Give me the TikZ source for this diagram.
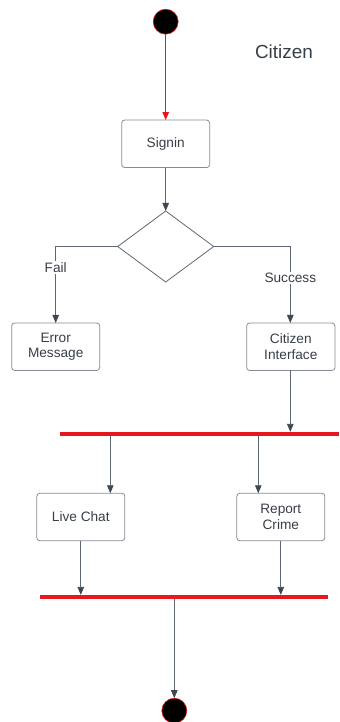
\documentclass[tikz,border=0pt]{standalone}
\usepackage{fontspec}
\setmainfont{Liberation Sans}
\usetikzlibrary{arrows,arrows.meta,shapes}
\definecolor{boxline}{HTML}{868B94}
\definecolor{boxtext}{HTML}{383E47}
\definecolor{flowline}{HTML}{5F6673}
\definecolor{flowtip}{HTML}{3F4753}
\definecolor{barred}{HTML}{E8171B}
\newcommand*{\boxfont}{\fontsize{13.7}{16}\selectfont\color{boxtext}}
\tikzstyle{state}=[draw=boxline, line width=0.8bp, rounded corners=3bp, minimum width=88bp,
  minimum height=47.5bp, align=center, font=\boxfont, inner sep=0pt, outer sep=0pt]
\tikzstyle{choice}=[draw=flowline, line width=0.8bp, diamond, minimum width=96bp,
  minimum height=71bp, inner sep=0pt, outer sep=0pt]
\tikzstyle{dot}=[circle, fill=black, draw=barred, line width=0.6bp, minimum size=25bp,
  inner sep=0pt, outer sep=0pt]
\tikzstyle{bar}=[fill=barred, minimum height=3.6bp, inner sep=0pt, outer sep=0pt]
\tikzstyle{flow}=[draw=flowline, line width=0.8bp,
  -{Triangle[length=8bp,width=6.5bp,fill=flowtip,color=flowtip]}]
\tikzstyle{initflow}=[barred, line width=1bp,
  -{Triangle[length=8bp,width=6.5bp]}]
\tikzstyle{guard}=[fill=white, font=\boxfont, inner sep=1.5bp]

\begin{document}
\begin{tikzpicture}[x=1bp, y=-1bp]
	\useasboundingbox (0,0) rectangle (339,722);
	\node (start) at (165.7,21.7) [dot] {};
	\node (title) at (284,52) [font=\fontsize{19}{22}\selectfont\color{boxtext}] {Citizen};
	\node (signin) at (165.7,143.8) [state] {Signin};
	\node (check) at (165.7,246.5) [choice] {};
	\node (error) at (55.7,346.7) [state] {Error\\Message};
	\node (cui) at (290.8,346.7) [state, minimum width=88.3bp] {Citizen\\Interface};
	\node (fork) at (199.5,433.7) [bar, minimum width=279bp] {};
	\node (chat) at (80.8,517) [state] {Live Chat};
	\node (report) at (280.8,517) [state] {Report\\Crime};
	\node (join) at (184.2,596.7) [bar, minimum width=288.3bp] {};
	\node (stop) at (174.3,710.7) [dot] {};

	\draw[initflow] (start) -- (signin);
	\draw[flow] (signin) -- (check);
	\draw[flow] (check.west) -| node[guard, pos=0.64] {Fail} (error.north);
	\draw[flow] (check.east) -| node[guard, pos=0.706] {Success} ([xshift=-0.5bp]cui.north);
	\draw[flow] ([xshift=-0.5bp]cui.south) -- ([xshift=-0.5bp]cui.south |- fork.north);
	% branches out of the fork bar
	\draw[flow] ([xshift=29.5bp]chat.north |- fork.south) -- ([xshift=29.5bp]chat.north);
	\draw[flow] ([xshift=-22.5bp]report.north |- fork.south) -- ([xshift=-22.5bp]report.north);
	\draw[flow] (chat.south) -- (chat.south |- join.north);
	\draw[flow] (report.south) -- (report.south |- join.north);
	\draw[flow] (stop.north |- join.south) -- (stop.north);
\end{tikzpicture}
\end{document}
